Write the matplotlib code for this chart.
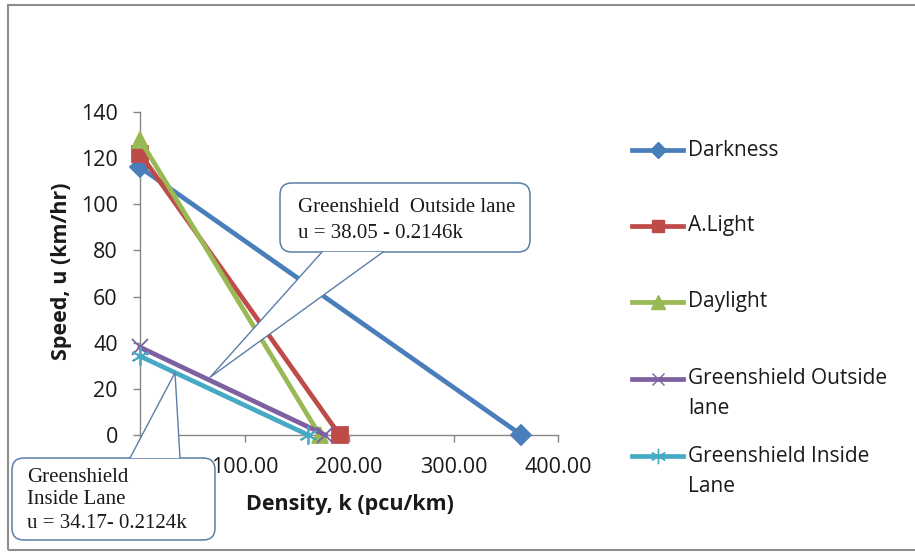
import matplotlib
matplotlib.use("Agg")
import matplotlib.pyplot as plt
from matplotlib.patches import FancyBboxPatch, Polygon, Rectangle
from matplotlib.lines import Line2D
from matplotlib.transforms import IdentityTransform

# ---- data ----
series_names = ["Darkness", "A.Light", "Daylight", "Greenshield Outside\nlane", "Greenshield Inside\nLane"]
darkness_k = [0, 365]
darkness_u = [116, 0]
alight_k = [0, 191]
alight_u = [122, 0]
daylight_k = [0, 172]
daylight_u = [128, 0]
outside_k = [0, 177.3]
outside_u = [38.05, 0]
inside_k = [0, 160.9]
inside_u = [34.17, 0]
x_ticks = [0, 100, 200, 300, 400]
y_ticks = [0, 20, 40, 60, 80, 100, 120, 140]
outside_callout_lines = ["Greenshield  Outside lane", "u = 38.05 - 0.2146k"]
inside_callout_lines = ["Greenshield", "Inside Lane", "u = 34.17- 0.2124k"]
outside_tip = (67, 25)
inside_tip = (33.5, 27)

# ---- styles ----
colors = ["#4A7EBB", "#BE4B48", "#98B954", "#7D60A0", "#46AAC5"]
markers = ["D", "s", "^", "x", (6, 2, 0)]
msizes = [10, 11, 12, 11, 13]
SANS = ["Open Sans", "DejaVu Sans"]
SERIF = ["Liberation Serif", "DejaVu Serif"]
W, H = 915, 552

fig = plt.figure(figsize=(W / 100, H / 100), dpi=100)
fig.patch.set_facecolor("white")

def px(x, y_top):
    return x, H - y_top

# outer chart border
fig.add_artist(Rectangle((8, 2), 2000, H - 5 - 2, transform=IdentityTransform(),
                         fill=False, ec="#8C8C8C", lw=1.5, zorder=0))

ax = fig.add_axes([140 / W, 1 - 435 / H, (558 - 140) / W, (435 - 112) / H])
ax.set_xlim(0, 400)
ax.set_ylim(0, 140)

data = [(darkness_k, darkness_u), (alight_k, alight_u), (daylight_k, daylight_u),
        (outside_k, outside_u), (inside_k, inside_u)]
for (k, u), c, m, ms in zip(data, colors, markers, msizes):
    ax.plot(k, u, color=c, lw=3.4, marker=m, ms=ms, mec=c, mfc=c, mew=1.3,
            clip_on=False, zorder=3)

for s in ["top", "right"]:
    ax.spines[s].set_visible(False)
for s in ["left", "bottom"]:
    ax.spines[s].set_color("#868686")
    ax.spines[s].set_linewidth(1)
ax.set_xticks(x_ticks)
# the 0.00 label is hidden behind the inside-lane callout in the original
ax.set_xticklabels(["" if v == 0 else f"{v:.2f}" for v in x_ticks])
ax.set_yticks(y_ticks)
ax.tick_params(axis="both", direction="out", length=5, width=1, color="#868686",
               labelsize=15.5, labelcolor="#1a1a1a", pad=11)
for lab in ax.get_xticklabels() + ax.get_yticklabels():
    lab.set_family(SANS)

ax.set_xlabel("Density, k (pcu/km)", fontsize=15.5, fontweight="bold", family=SANS, color="#1a1a1a")
ax.set_ylabel("Speed, u (km/hr)", fontsize=15.5, fontweight="bold", family=SANS, color="#1a1a1a")
ax.xaxis.set_label_coords((350 - 140) / 418, (435 - 494) / 323)
ax.yaxis.set_label_coords((72 - 140) / 418, (435 - 271) / 323)

# ---- legend (manual, Excel-like) ----
leg_y = [150, 226, 302, 379, 456]
for name, c, m, ms, yt in zip(series_names, colors, markers, msizes, leg_y):
    x0, y0 = px(632, yt)
    fig.add_artist(Line2D([x0, x0 + 51], [y0, y0], transform=IdentityTransform(),
                          color=c, lw=3.4))
    fig.add_artist(Line2D([x0 + 25.5], [y0], transform=IdentityTransform(),
                          color=c, marker=m, ms=ms * 0.85, mec=c, mfc=c, lw=0))
    for i, line in enumerate(name.split("\n")):
        fig.text(688 / W, (H - yt - i * 30) / H, line, fontsize=15, family=SANS,
                 color="#1a1a1a", va="center", ha="left")

# ---- callouts ----
def callout(box, base, tip_data, lines, text_x, text_ys, ec="#5A7EA8"):
    x0, y0t, x1, y1t = box
    bx0, by0 = px(x0, y1t)
    fig.add_artist(FancyBboxPatch((bx0, by0), x1 - x0, y1t - y0t,
                                  boxstyle="round,pad=0,rounding_size=12",
                                  transform=IdentityTransform(), fc="white", ec=ec, lw=1.1, zorder=5))
    tx, ty = ax.transData.transform(tip_data)
    (ax0, yb), (ax1, _) = base
    _, yb = px(0, yb)
    fig.add_artist(Polygon([(ax0, yb), (tx, ty), (ax1, yb)], closed=True,
                           transform=IdentityTransform(), fc="white", ec="none", zorder=6))
    fig.add_artist(Line2D([ax0, tx, ax1], [yb, ty, yb], transform=IdentityTransform(),
                          color=ec, lw=1.0, zorder=7))
    for line, yt in zip(lines, text_ys):
        fig.text(text_x / W, (H - yt) / H, line, fontsize=15, family=SERIF,
                 color="#1a1a1a", va="center", ha="left", zorder=8)

callout((280, 183, 530, 252), ((322, 252), (383, 252)), outside_tip,
        outside_callout_lines, 298, [208, 234])
callout((12, 458, 215, 540), ((130, 458), (180, 458)), inside_tip,
        inside_callout_lines, 27, [478, 500, 523])

fig.savefig("out.png", dpi=100, facecolor="white")
